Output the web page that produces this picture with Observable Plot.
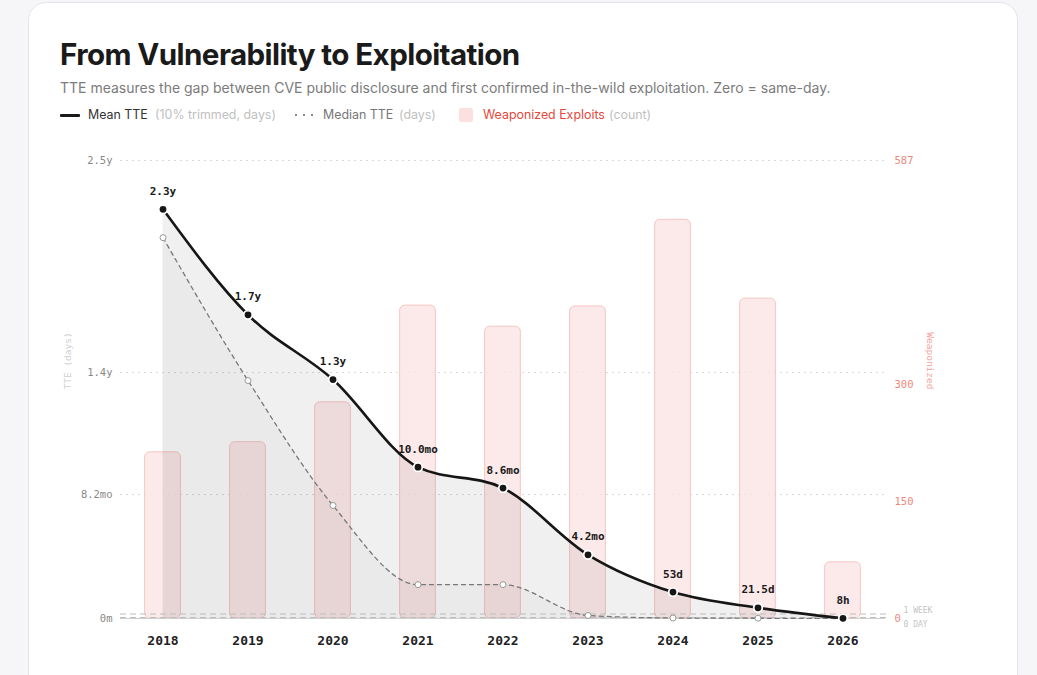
<!DOCTYPE html>
<html>
<head>
<meta charset="utf-8">
<script src="https://cdn.jsdelivr.net/npm/d3@7"></script>
<script src="https://cdn.jsdelivr.net/npm/@observablehq/plot@0.6"></script>
<style>
  html, body { margin: 0; padding: 0; background: #f6f6f8; width: 1037px; height: 675px; overflow: hidden; font-family: Inter, "Noto Sans", sans-serif; }
  .card { position: absolute; left: 28px; top: 2px; width: 988px; height: 720px; background: #fff; border: 1px solid #e4e4ea; border-radius: 18px; }
  .title { position: absolute; left: 60px; top: 34px; font-size: 29.6px; font-weight: 700; color: #1a1a1a; letter-spacing: -0.6px; line-height: 40px; white-space: nowrap; }
  .subtitle { position: absolute; left: 60px; top: 78px; font-size: 14px; color: #7b7b7b; line-height: 20px; white-space: nowrap; }
  .legend { position: absolute; left: 60px; top: 107px; font-size: 12.4px; line-height: 16px; white-space: nowrap; }
  .legend span { position: absolute; top: 0; }
  .muted { color: #c0c0c0; }
  #chart { position: absolute; left: 0; top: 130px; }
</style>
</head>
<body>
<div class="card"></div>
<div class="title">From Vulnerability to Exploitation</div>
<div class="subtitle">TTE measures the gap between CVE public disclosure and first confirmed in-the-wild exploitation. Zero = same-day.</div>
<div class="legend">
  <span style="left:0px;top:7px;width:20px;height:3px;background:#1a1a1a;border-radius:1px"></span>
  <span style="left:28px;color:#333">Mean TTE</span>
  <span class="muted" style="left:95px">(10% trimmed, days)</span>
  <span style="left:235px;top:7px;width:22px;height:2px;background:repeating-linear-gradient(90deg,#888 0 2px,transparent 2px 8px)"></span>
  <span style="left:263px;color:#777">Median TTE</span>
  <span class="muted" style="left:339px">(days)</span>
  <span style="left:399px;top:1px;width:14px;height:14px;background:#fbe0df;border-radius:2px"></span>
  <span style="left:423px;color:#e5483b">Weaponized Exploits</span>
  <span class="muted" style="left:549px">(count)</span>
</div>
<div id="chart"></div>
<script>
const years = [2018, 2019, 2020, 2021, 2022, 2023, 2024, 2025, 2026];
const meanDays = [822, 610, 480, 304, 262, 128, 53, 21.5, 0.33];
const medianDays = [765, 478, 227, 68, 68, 6, 1, 0.5, 0];
const weaponized = [213, 226, 277, 401, 374, 400, 511, 410, 72];

const leftMax = 920;          // days at top of left axis
const rightMax = 587;         // count at top of right axis
const leftTicks = [0, 249, 494, 920];
const leftTickLabels = ["0m", "8.2mo", "1.4y", "2.5y"];
const rightTicks = [0, 150, 300, 587];
const refLines = [0, 7];
const refLabels = ["0 DAY", "1 WEEK"];

const K = leftMax / rightMax;
const data = years.map((year, i) => ({year, mean: meanDays[i], median: medianDays[i], count: weaponized[i]}));

function fmt(d) {
  if (d < 1) return Math.round(d * 24) + "h";
  if (d < 60) return (Number.isInteger(d) ? d : d.toFixed(1)) + "d";
  if (d < 365) return (d / 30.4).toFixed(1) + "mo";
  return (d / 365).toFixed(1) + "y";
}

const mono = "'DejaVu Sans Mono', 'Liberation Mono', monospace";
const half = 0.21;
const refStyle = {x: 2026.5, y: d => d, textAnchor: "start", dx: 18, fill: "#c4c4c4", fontSize: 8, letterSpacing: 0.3};

const chart = Plot.plot({
  width: 1037,
  height: 545,
  marginLeft: 120,
  marginRight: 152,
  marginTop: 30,
  marginBottom: 57,
  style: {fontFamily: mono, background: "transparent"},
  x: {type: "linear", domain: [2017.5, 2026.5]},
  y: {domain: [0, leftMax]},
  marks: [
    Plot.gridY(leftTicks.slice(1), {stroke: "#d8d8d8", strokeOpacity: 1, strokeDasharray: "2,4"}),
    Plot.rectY(data, {x1: d => d.year - half, x2: d => d.year + half, y1: 0, y2: d => d.count * K,
      fill: "#fbe3e3", fillOpacity: 0.8, stroke: "#f5c6c4", strokeWidth: 1, rx: 5}),
    Plot.areaY(data, {x: "year", y: "mean", curve: "monotone-x", fill: "#000", fillOpacity: 0.06}),
    Plot.areaY(data, {x: "year", y: "median", curve: "monotone-x", fill: "#000", fillOpacity: 0.025}),
    Plot.ruleY([0], {stroke: "#cfcfcf", strokeWidth: 1, x1: 2017.5, x2: 2026.5}),
    Plot.ruleY(refLines, {stroke: "#bdbdbd", strokeDasharray: "6,4", strokeWidth: 1, x1: 2017.5, x2: 2026.55, dy: -1}),
    Plot.text([refLines[1]], {...refStyle, text: () => refLabels[1], dy: -5}),
    Plot.text([refLines[0]], {...refStyle, text: () => refLabels[0], dy: 6}),
    Plot.line(data, {x: "year", y: "median", curve: "monotone-x", stroke: "#777", strokeWidth: 1.3, strokeDasharray: "4,4"}),
    Plot.dot(data, {x: "year", y: "median", r: 3, fill: "#fff", stroke: "#999", strokeWidth: 1}),
    Plot.line(data, {x: "year", y: "mean", curve: "monotone-x", stroke: "#161616", strokeWidth: 2.6}),
    Plot.dot(data, {x: "year", y: "mean", r: 4.3, fill: "#161616", stroke: "#fff", strokeWidth: 1.8}),
    Plot.text(data, {x: "year", y: "mean", text: d => fmt(d.mean), dy: -18, fill: "#1a1a1a", fontSize: 11, fontWeight: 600}),
    Plot.axisY({ticks: leftTicks, tickFormat: (d, i) => leftTickLabels[i], tickSize: 0, tickPadding: 8, fill: "#888", fontSize: 10.5}),
    Plot.axisY({anchor: "right", ticks: rightTicks.map(v => v * K), tickFormat: d => String(Math.round(d / K)), tickSize: 0, tickPadding: 9, fill: "#f0877c", fontSize: 10.5, label: null}),
    Plot.axisX({ticks: years, tickFormat: d => String(d), tickSize: 0, tickPadding: 17, fill: "#222", fontSize: 13, fontWeight: 700, label: null}),
    Plot.text(["TTE (days)"], {frameAnchor: "left", dx: -53, rotate: -90, fill: "#cfcfcf", fontSize: 9.5}),
    Plot.text(["Weaponized"], {frameAnchor: "right", dx: 45, rotate: 90, fill: "#f4a59c", fontSize: 9.5})
  ]
});
document.getElementById("chart").appendChild(chart);
</script>
</body>
</html>
